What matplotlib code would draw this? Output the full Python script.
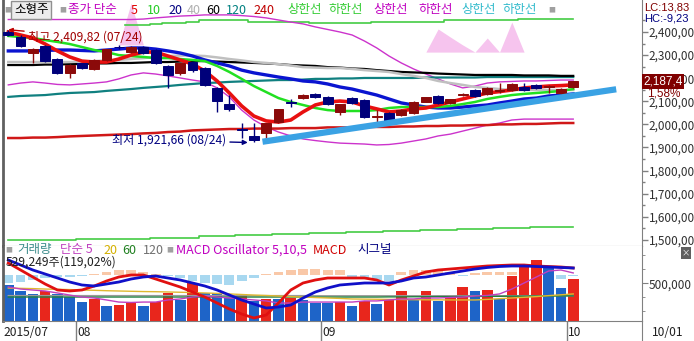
import matplotlib
matplotlib.use('Agg')
import matplotlib.pyplot as plt
import numpy as np

plt.rcParams['font.family'] = ['Noto Sans CJK KR', 'DejaVu Sans']
LATIN = ['Liberation Sans', 'DejaVu Sans']

# ---- data -------------------------------------------------------------
days_by_month = {
    '07': [24, 27, 28, 29, 30, 31],
    '08': [3, 4, 5, 6, 7, 10, 11, 12, 13, 17, 18, 19, 20, 21, 24, 25, 26, 27, 28, 31],
    '09': [1, 2, 3, 4, 7, 8, 9, 10, 11, 14, 15, 16, 17, 18, 21, 22, 23, 24, 25, 30],
    '10': [1],
}
dates = [f'{m}/{d:02d}' for m, ds in days_by_month.items() for d in ds]

opens = [2402, 2380, 2309, 2339, 2283, 2224, 2264, 2239, 2279, 2336, 2315, 2336, 2322, 2253, 2221, 2271,
         2244, 2158, 2087, 1978, 1950, 1964, 2012, 2095, 2113, 2132, 2117, 2055, 2113, 2106, 2031, 2049,
         2041, 2048, 2098, 2123, 2094, 2128, 2149, 2132, 2145, 2149, 2164, 2171, 2163, 2134, 2160]
highs = [2409.82, 2385, 2330, 2342, 2286, 2260, 2266, 2281, 2328, 2345, 2340, 2340, 2325, 2256, 2266, 2274,
         2247, 2160, 2127, 2007, 2006, 2008, 2068, 2109, 2130, 2135, 2122, 2090, 2117, 2110, 2062, 2052,
         2065, 2101, 2120, 2127, 2110, 2136, 2152, 2160, 2178, 2178, 2179, 2174, 2172, 2156, 2190]
lows = [2382, 2335, 2266, 2272, 2218, 2201, 2240, 2236, 2276, 2325, 2310, 2305, 2260, 2158, 2215, 2225,
        2168, 2055, 2060, 1941, 1921.66, 1932, 2008, 2077, 2110, 2114, 2085, 2041, 2088, 2028, 2012, 2008,
        2038, 2045, 2095, 2090, 2090, 2124, 2120, 2128, 2136, 2145, 2146, 2155, 2136, 2118, 2157]
closes = [2389, 2340, 2326, 2276, 2222, 2257, 2243, 2279, 2325, 2333, 2336, 2308, 2264, 2214, 2264, 2235,
          2171, 2103, 2065, 1976, 1932, 2005, 2065, 2093, 2127, 2117, 2088, 2088, 2091, 2031, 2035, 2012,
          2062, 2098, 2117, 2094, 2108, 2131, 2123, 2157, 2148, 2175, 2149, 2158, 2165, 2153.4, 2187.4]

ma5 = [2400, 2387, 2374, 2348, 2318, 2292, 2274, 2270, 2270, 2283, 2300, 2313, 2313, 2296, 2279, 2261,
       2231, 2188, 2136, 2080, 2036, 2015, 2010, 2019, 2054, 2084, 2097, 2101, 2097, 2080, 2067, 2054,
       2058, 2067, 2071, 2084, 2097, 2110, 2123, 2136, 2142, 2149, 2158, 2162, 2166, 2168, 2171]
ma10 = [2383, 2378, 2374, 2365, 2357, 2348, 2335, 2322, 2313, 2300, 2296, 2292, 2287, 2287, 2283, 2279,
        2274, 2253, 2227, 2197, 2166, 2140, 2114, 2097, 2084, 2071, 2062, 2058, 2058, 2058, 2062, 2071,
        2075, 2075, 2075, 2075, 2080, 2088, 2097, 2110, 2119, 2127, 2132, 2136, 2140, 2145, 2153]
ma20 = [2318, 2318, 2318, 2320, 2322, 2322, 2320, 2318, 2322, 2326, 2331, 2331, 2326, 2318, 2309, 2296,
        2279, 2266, 2253, 2235, 2223, 2214, 2205, 2197, 2188, 2184, 2175, 2162, 2153, 2140, 2127, 2110,
        2093, 2084, 2075, 2071, 2071, 2075, 2080, 2084, 2093, 2101, 2110, 2114, 2123, 2127, 2132]
ma40 = [2270, 2270, 2270, 2270, 2270, 2270, 2272, 2274, 2277, 2279, 2283, 2287, 2292, 2296, 2298, 2298,
        2296, 2290, 2283, 2277, 2270, 2266, 2261, 2255, 2248, 2246, 2244, 2244, 2240, 2235, 2231, 2227,
        2218, 2210, 2201, 2188, 2179, 2171, 2162, 2158, 2153, 2149, 2149, 2149, 2149, 2149, 2149]
ma60 = [2257, 2257, 2257, 2259, 2259, 2261, 2261, 2264, 2264, 2266, 2266, 2268, 2270, 2270, 2272, 2274,
        2274, 2272, 2270, 2268, 2266, 2264, 2261, 2257, 2255, 2253, 2248, 2246, 2242, 2240, 2235, 2231,
        2227, 2225, 2223, 2220, 2218, 2216, 2214, 2214, 2214, 2214, 2212, 2212, 2212, 2210, 2210]
ma120 = [2119, 2123, 2125, 2127, 2132, 2136, 2138, 2140, 2145, 2149, 2153, 2158, 2162, 2166, 2171, 2175,
         2179, 2181, 2184, 2186, 2188, 2190, 2192, 2192, 2194, 2197, 2197, 2199, 2199, 2201, 2201, 2201,
         2201, 2201, 2203, 2203, 2203, 2203, 2203, 2205, 2205, 2205, 2205, 2205, 2205, 2205, 2205]
ma240 = [1941, 1941, 1943, 1943, 1945, 1948, 1950, 1952, 1954, 1956, 1958, 1961, 1963, 1967, 1969, 1974,
         1976, 1978, 1980, 1980, 1982, 1982, 1982, 1984, 1984, 1984, 1987, 1987, 1987, 1989, 1989, 1989,
         1991, 1991, 1993, 1993, 1995, 1995, 1997, 1997, 2000, 2000, 2002, 2002, 2004, 2006, 2006]

# envelope / band lines
band_up = [2454] * 11 + [2456, 2461, 2465, 2469, 2471, 2474, 2474, 2474, 2471, 2467, 2461, 2452, 2443, 2435,
                         2422, 2411, 2400, 2387, 2361, 2331, 2296, 2266, 2240, 2218, 2197, 2175, 2158, 2166,
                         2179, 2184, 2186, 2188, 2188, 2190, 2192, 2192]
band_lo = [2171, 2179, 2184, 2179, 2173, 2171, 2175, 2179, 2184, 2197, 2214, 2223, 2218, 2210, 2201, 2192,
           2184, 2158, 2119, 2062, 2019, 1989, 1967, 1950, 1937, 1930, 1924, 1919, 1917, 1915, 1911, 1913,
           1919, 1928, 1937, 1950, 1958, 1971, 1984, 1997, 2006, 2019, 2023, 2023, 2023, 2023, 2023]
env_up = [np.nan] * 10 + [2430, 2432, 2435, 2437, 2439, 2443, 2450, 2450, 2450, 2450, 2445, 2445, 2445, 2445,
                          2445, 2439, 2439, 2439, 2439, 2439, 2443, 2443, 2443, 2443, 2443, 2443, 2450, 2450,
                          2450, 2450, 2450, 2450, 2458, 2458, 2458, 2458, 2458]
env_lo = [1500] * 6 + [1506] * 6 + [1510] * 4 + [1517] * 3 + [1521] * 3 + [1526] * 3 + [1530] * 3 + \
         [1534] * 3 + [1539] * 3 + [1543] * 3 + [1547] * 3 + [1552] * 3 + [1556] * 4
pink_base = [2344] * 21 + [2313] * 26
pink_top = [2344] * 10 + [2525] + [2344] * 10 + [2313] * 13 + \
           [2313, 2413, 2378, 2344, 2313, 2374, 2313, 2443, 2313] + [2313] * 4

# user trend line (bar index, price)
trend_idx = [20.7, 49.5]
trend_val = [1925, 2152]

# volume panel (thousand shares)
volume = [487, 447, 424, 447, 424, 400, 369, 386, 338, 345, 357, 338, 369, 433, 381, 500, 429, 429, 393, 424,
          376, 386, 386, 393, 381, 357, 357, 369, 338, 374, 350, 381, 445, 381, 445, 376, 400, 471, 445, 452,
          388, 554, 619, 666, 607, 464, 529.249]
vol_up = list('bbbrbbbrbrrbrrbrbbbrbrbrbbbrbrbrrbrbrrbrbrrrbbr')
vol_ma5 = [474, 459, 452, 445, 431, 416, 402, 395, 381, 366, 363, 366, 366, 381, 388, 402, 409, 402, 395, 388,
           381, 374, 359, 359, 366, 366, 366, 366, 366, 374, 374, 381, 388, 388, 395, 395, 399, 402, 409, 413,
           424, 459, 502, 545, 588, 595, 574]
vol_ma20 = [466, 464, 462, 459, 457, 455, 452, 450, 447, 445, 443, 441, 440, 438, 436, 434, 431, 428, 424, 420,
            416, 413, 409, 405, 402, 398, 395, 392, 388, 387, 386, 385, 384, 383, 382, 382, 381, 381, 381, 385,
            390, 395, 400, 405, 412, 418, 424]
vol_ma60 = [402] * 30 + [402, 403, 403, 404, 404, 405, 405, 406, 406, 407, 407, 408, 408, 409, 409, 410, 410]
vol_ma120 = [412] * 25 + [411] * 22
vol_ratio = '119,02%'

macd = [12, 5, -2, -9, -15, -16, -15, -11, -6, -2, 0, 0, -4, -8, -12, -17, -22, -28, -34, -39, -43, -40, -28,
        -15, -8, -5, -3, -3, -3, -3, -5, -10, -5, -1, 3, 5, 6, 7, 8, 9, 9.5, 10, 10, 9, 8.5, 8, 7]
signal = [15, 10, 5, 1, -3, -7, -10, -11, -9, -7, -4, -2, -1, -3, -5, -8, -11, -15, -20, -25, -29, -33, -32,
          -30, -23, -17, -13, -10, -9, -8, -8, -8, -6, -3, -2, 0, 2, 4, 6, 7.5, 8.5, 9, 9, 8.5, 8, 7.5, 7]
osc = [-8, -7, -5, -3, -2, -2, -1, 1, 3, 5, 5, 3, 1, -1, -3, -6, -8, -9, -10, -6, -3, 1, 3, 5, 6, 6, 5, 5,
       -2, -4, -5, -6, 3, 5, 5, 4, 3, -1, 2, 3, 3, 3, -1, -1, -1, -4, -1]

# ---- figure layout ------------------------------------------------------
W, H = 694, 341


def rect(x0, y0, x1, y1):
    return [x0 / W, 1 - y1 / H, (x1 - x0) / W, (y1 - y0) / H]


fig = plt.figure(figsize=(W / 100, H / 100), dpi=100)
ax = fig.add_axes(rect(3, 0, 642, 246))
axo = fig.add_axes(rect(3, 246, 642, 321))
axv = fig.add_axes(rect(3, 246, 642, 321))
axm = fig.add_axes(rect(3, 246, 642, 321))
axd = fig.add_axes(rect(3, 321, 642, 341))
axo.set_zorder(1)
axv.set_zorder(2)
axm.set_zorder(3)
for a in (axv, axm):
    a.patch.set_visible(False)

n = len(closes)
x = np.arange(n)
XL = (-0.43, 51.6)
GRID = '#808080'


def pfmt(v, digits=2):
    return f'{v:,.{digits}f}'.replace('.', ',')


# ---- price panel ---------------------------------------------------------
ax.set_xlim(*XL)
ax.set_ylim(1473.6, 2538.5)
ax.fill_between(x, pink_base, pink_top, color='#f6c4ee', lw=0, zorder=1)

ax.step(x, env_up, where='mid', color='#44cc44', lw=1.2, zorder=2)
ax.step(x, env_lo, where='mid', color='#44cc44', lw=1.2, zorder=2)
ax.plot(x, band_up, color='#cc33cc', lw=1, zorder=2)
ax.plot(x, band_lo, color='#cc33cc', lw=1, zorder=2)

ax.plot(x, ma240, color='#d01818', lw=1.8, zorder=3)
ax.plot(x, ma120, color='#108080', lw=1.6, zorder=3)
ax.plot(x, ma60, color='#000000', lw=1.6, zorder=3)
ax.plot(x, ma40, color='#c0c0c0', lw=1.8, zorder=3)
ax.plot(x, ma20, color='#0a14d0', lw=2.4, zorder=3)
ax.plot(x, ma10, color='#22e022', lw=1.8, zorder=3)
ax.plot(x, ma5, color='#e81010', lw=2.6, zorder=3)

o, c = np.array(opens), np.array(closes)
ccol = np.where(c >= o, '#8b0a0a', '#00007a')
ax.vlines(x, lows, highs, color=ccol, lw=1, zorder=5)
ax.bar(x, np.abs(c - o), bottom=np.minimum(o, c), width=0.8, color=ccol, edgecolor=ccol, lw=0.7, zorder=6)

ax.plot(trend_idx, trend_val, color='#3aa2e4', lw=4.5, solid_capstyle='butt', zorder=7)

imax = int(np.argmax(highs))
imin = int(np.argmin(lows))
ax.annotate(f'최고 {pfmt(highs[imax])} ({dates[imax]})', xy=(imax, highs[imax]), xytext=(20, -7),
            textcoords='offset pixels', ha='left', va='center', fontsize=8.7, color='#a00000', zorder=8,
            arrowprops=dict(arrowstyle='-|>', color='#c00000', lw=1, mutation_scale=6, shrinkA=1, shrinkB=0))
ax.annotate(f'최저 {pfmt(lows[imin])} ({dates[imin]})', xy=(imin - 0.5, lows[imin]), xytext=(-22, 2),
            textcoords='offset pixels', ha='right', va='center', fontsize=8.7, color='#000080', zorder=8,
            arrowprops=dict(arrowstyle='-|>', color='#000080', lw=1, mutation_scale=7, shrinkA=1, shrinkB=0))

ax.yaxis.tick_right()
ax.set_yticks(np.arange(1500, 2401, 100))
ax.set_yticks(np.arange(1500, 2451, 50), minor=True)
ax.yaxis.set_major_formatter(lambda v, p: pfmt(v))
ax.tick_params(axis='y', which='major', length=4, width=1, color=GRID, labelsize=8.5, pad=1,
               labelcolor='#303030')
ax.tick_params(axis='y', which='minor', length=2.5, width=1, color=GRID)
ax.set_xticks([])
ax.spines['top'].set_visible(False)
ax.spines['left'].set_color('#606060')
ax.spines['left'].set_linewidth(2)
for s in ('right', 'bottom'):
    ax.spines[s].set_color(GRID)

# last price box
pct = (closes[-1] / closes[-2] - 1) * 100
ax.text(1.002, closes[-1], pfmt(closes[-1], 1), transform=ax.get_yaxis_transform(), ha='left',
        va='center', fontsize=8.5, color='white', zorder=10, clip_on=False, family=LATIN,
        bbox=dict(boxstyle='square,pad=0.12', fc='#800000', ec='none'))
ax.text(1.008, closes[-1] - 52, pfmt(pct) + '%', transform=ax.get_yaxis_transform(), ha='left',
        va='center', fontsize=8.5, color='#800000', zorder=10, clip_on=False, family=LATIN)
fig.text(644 / W, 1 - 7.5 / H, 'LC:13,83', ha='left', va='center', fontsize=8, color='#800000',
         family=LATIN)
fig.text(644 / W, 1 - 18.5 / H, 'HC:-9,23', ha='left', va='center', fontsize=8, color='#000080',
         family=LATIN)

# top legend
ax_y = 1 - 10 / 246
top_items = [('종가 단순', '#c000c0', 68), ('5', '#e00000', 131), ('10', '#22cc22', 147),
             ('20', '#000080', 168), ('40', '#b0b0b0', 187), ('60', '#000000', 206),
             ('120', '#008080', 226), ('240', '#c00000', 253), ('상한선', '#33cc33', 287),
             ('하한선', '#33cc33', 328), ('상한선', '#c000c0', 373), ('하한선', '#c000c0', 418),
             ('상한선', '#33bbcc', 461), ('하한선', '#33bbcc', 502)]
ax.text((14 - 3) / 639, ax_y, '소형주', transform=ax.transAxes, ha='left', va='center', fontsize=9,
        color='black', zorder=10, bbox=dict(boxstyle='square,pad=0.22', fc='#ececec', ec='#909090'))
for label, col, px in top_items:
    ax.text((px - 3) / 639, ax_y, label, transform=ax.transAxes, ha='left', va='center',
            fontsize=9, color=col, zorder=10)
for px in (4, 59, 548):
    ax.text((px - 3) / 639, ax_y, '■', transform=ax.transAxes, ha='left', va='center',
            fontsize=5, color='#a0a0a0', zorder=10)

# ---- volume / MACD panel -------------------------------------------------
for a in (axo, axv, axm):
    a.set_xlim(*XL)
    a.set_xticks([])

axo.set_ylim(-46, 29)
axo.set_yticks([])
osc_arr = np.array(osc)
axo.bar(x, osc_arr, width=0.8, color=np.where(osc_arr >= 0, '#f9c8a8', '#a8d8f0'), lw=0)
for s in axo.spines.values():
    s.set_visible(False)

axv.set_ylim(230.7, 766.4)
vcol = ['#e8261c' if v == 'r' else '#1e64c8' for v in vol_up]
axv.bar(x, volume, width=0.86, color=vcol, lw=0)
axv.plot(x, vol_ma120, color='#9a9a9a', lw=1)
axv.plot(x, vol_ma60, color='#208040', lw=1)
axv.plot(x, vol_ma20, color='#e0b830', lw=1)
axv.plot(x, vol_ma5, color='#c040c0', lw=1)
axv.yaxis.tick_right()
axv.set_yticks([500])
axv.set_yticks([300, 400, 600, 700], minor=True)
axv.yaxis.set_major_formatter(lambda v, p: f'{v * 1000:,.0f}')
axv.tick_params(axis='y', which='major', length=4, color=GRID, labelsize=8.5, pad=1, labelcolor='#303030')
axv.tick_params(axis='y', which='minor', length=2.5, color=GRID)
axv.spines['top'].set_visible(False)
axv.spines['left'].set_color('#606060')
axv.spines['left'].set_linewidth(2)
for s in ('right', 'bottom'):
    axv.spines[s].set_color(GRID)

axm.set_ylim(-46, 29)
axm.set_yticks([])
axm.plot(x, macd, color='#e01010', lw=2)
axm.plot(x, signal, color='#1010c8', lw=2)
for s in axm.spines.values():
    s.set_visible(False)

vy = 1 - 4 / 75
vol_items = [('거래량', '#3c8c8c', 17), ('단순 5', '#c040c0', 60), ('20', '#d4b000', 103),
             ('60', '#208020', 122), ('120', '#707070', 143), ('MACD Oscillator 5,10,5', '#c000c0', 176),
             ('MACD', '#d00000', 313), ('시그널', '#000080', 357)]
for label, col, px in vol_items:
    axm.text((px - 3) / 639, vy, label, transform=axm.transAxes, ha='left', va='center',
             fontsize=9, color=col)
for px in (5, 166):
    axm.text((px - 3) / 639, vy, '■', transform=axm.transAxes, ha='left', va='center',
             fontsize=5, color='#a0a0a0')
axm.text(3 / 639, 1 - 16 / 75, f'{volume[-1] * 1000:,.0f}주({vol_ratio})', transform=axm.transAxes,
         ha='left', va='center', fontsize=8.7, color='#202020')
fig.text(686 / W, 1 - 253 / H, '×', ha='center', va='center', fontsize=6, color='white',
         bbox=dict(boxstyle='square,pad=0.15', fc='#606060', ec='none'))

# ---- date strip ---------------------------------------------------------
axd.set_xlim(*XL)
axd.set_ylim(0, 1)
axd.set_xticks([])
axd.set_yticks([])
for s in ('left', 'bottom', 'top'):
    axd.spines[s].set_visible(False)
axd.spines['right'].set_color(GRID)
months = [d[:2] for d in dates]
axd.text(XL[0] + 0.05, 0.45, '2015/' + months[0], ha='left', va='center', fontsize=8.7, color='#202020')
for i in range(1, n):
    if months[i] != months[i - 1]:
        axd.axvline(i - 0.5, color=GRID, lw=1)
        axd.text(i - 0.4, 0.45, months[i], ha='left', va='center', fontsize=8.7, color='#202020')
axd.text(1.016, 0.45, dates[-1], transform=axd.transAxes, ha='left', va='center', fontsize=8.7,
         color='#202020')

fig.savefig('out.png', dpi=100)
